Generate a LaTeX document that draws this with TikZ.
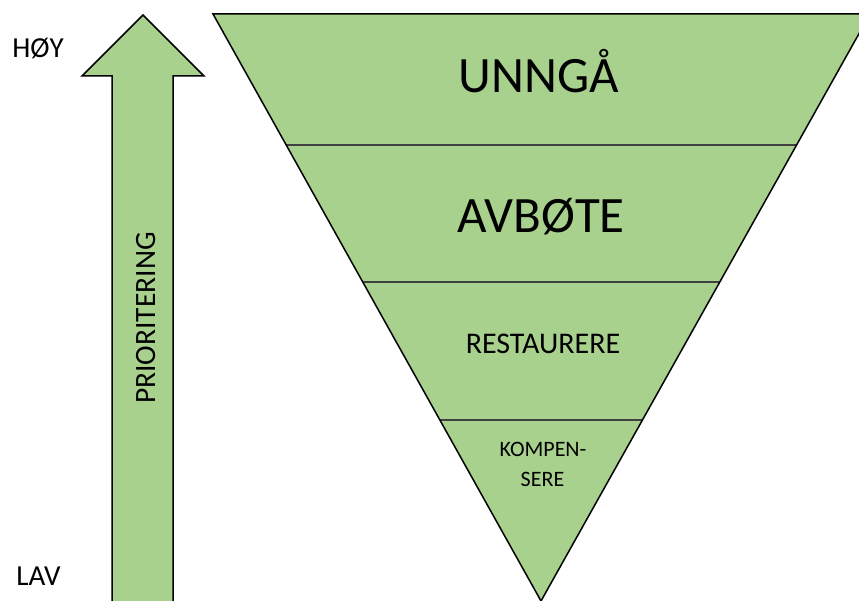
\documentclass[tikz,border=0pt]{standalone}
\usepackage{fontspec}
\setmainfont{Carlito}
\usetikzlibrary{calc}
\definecolor{levelgreen}{RGB}{169,209,142}

\begin{document}
\begin{tikzpicture}[x=1pt, y=-1pt,
    greenshape/.style = {fill=levelgreen, draw=black, line width=1.5pt},
    divider/.style = {draw=black!75, line width=1.2pt},
    leveltext/.style = {anchor=base, inner sep=0pt}]
    \useasboundingbox (0,0) rectangle (859,601);

    % prioritet-pil
    \coordinate (Tip) at (143,15);
    \draw [greenshape] (Tip) -- (204,76) -- (173,76) -- (173,612)
        -- (112,612) -- (112,76) -- (82,76) -- cycle;
    \node (prio) at (155,318) [leveltext, rotate=90, font=\fontsize{29.5}{30}\selectfont] {PRIORITERING};
    \node (hoy) at (38,58) [leveltext, font=\fontsize{29}{30}\selectfont] {HØY};
    \node (lav) at (38.5,585) [leveltext, font=\fontsize{29}{30}\selectfont] {LAV};

    % trekant
    \coordinate (TL) at (213,14);
    \coordinate (TR) at (870,14);
    \coordinate (B) at (541,601);
    \fill [levelgreen] (TL) -- (TR) -- (B) -- cycle;
    \foreach \t in {0.2232, 0.4566, 0.6917}
        \draw [divider] ($(TL)!\t!(B)$) -- ($(TR)!\t!(B)$);
    \draw [greenshape, fill=none, line join=miter] (TL) -- (TR) -- (B) -- cycle;

    \node (unnga) at (539,93) [leveltext, font=\fontsize{51}{52}\selectfont] {UNNGÅ};
    \node (avbote) at (541,233) [leveltext, font=\fontsize{51}{52}\selectfont] {AVBØTE};
    \node (rest) at (543,353) [leveltext, font=\fontsize{30}{31}\selectfont] {RESTAURERE};
    \node (komp) at (543,456) [leveltext, font=\fontsize{22}{23}\selectfont] {KOMPEN-};
    \node (sere) at (542.5,486) [leveltext, font=\fontsize{22}{23}\selectfont] {SERE};
\end{tikzpicture}
\end{document}
